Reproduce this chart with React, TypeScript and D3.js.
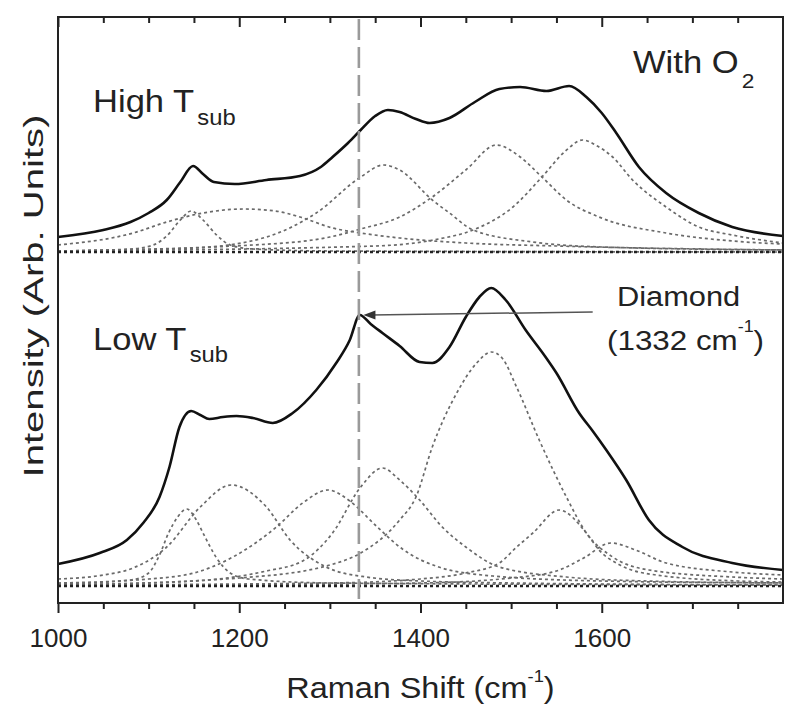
import React, { useEffect, useRef } from "react";
import * as d3 from "d3";

type Pt = [number, number]; // [Raman shift (cm-1), intensity (arb. units)]

// measured spectra
const highTsubSpectrum: Pt[] = [
  [1000, 366], [1050, 373], [1080, 381], [1100, 390], [1120, 403], [1135, 421], [1149, 437],
  [1160, 429], [1172, 421], [1195, 419], [1230, 423], [1267, 427], [1290, 436], [1303, 446],
  [1320, 460], [1334, 473], [1350, 487], [1364, 493], [1377, 491], [1395, 484], [1410, 480],
  [1432, 485], [1460, 501], [1487, 514], [1510, 516], [1539, 512], [1564, 517], [1583, 506],
  [1600, 490], [1616, 470], [1641, 436], [1671, 410], [1707, 390], [1744, 376], [1800, 367]
];

const lowTsubSpectrum: Pt[] = [
  [1000, 39], [1046, 50], [1076, 63], [1094, 80], [1112, 106], [1123, 136], [1134, 176],
  [1147, 192], [1157, 188], [1167, 184], [1182, 186], [1197, 187], [1215, 185], [1237, 180],
  [1259, 190], [1285, 213], [1307, 240], [1322, 263], [1333, 288], [1345, 279], [1358, 270],
  [1377, 257], [1399, 241], [1413, 240], [1432, 256], [1450, 286], [1465, 306], [1478, 315],
  [1494, 303], [1516, 273], [1538, 246], [1550, 230], [1575, 190], [1590, 172], [1605, 153],
  [1627, 123], [1652, 83], [1689, 56], [1744, 40], [1800, 33]
];

// fitted bands, high T_sub
const highBand1147: Pt[] = [
  [1000, 352], [1080, 354], [1105, 358], [1120, 367], [1135, 383], [1147, 392], [1160, 383],
  [1175, 368], [1190, 358], [1215, 354], [1300, 352], [1800, 351]
];
const highBand1205: Pt[] = [
  [1000, 358], [1083, 370], [1120, 381], [1160, 390], [1205, 394], [1240, 392], [1267, 386],
  [1303, 375], [1334, 370], [1377, 365], [1450, 360], [1550, 357], [1800, 353]
];
const highBand1359: Pt[] = [
  [1000, 352], [1150, 355], [1230, 366], [1285, 390], [1334, 426], [1359, 438], [1377, 433],
  [1413, 403], [1432, 390], [1458, 373], [1524, 361], [1600, 356], [1800, 353]
];
const highBand1484: Pt[] = [
  [1000, 352], [1250, 360], [1300, 366], [1334, 374], [1377, 386], [1413, 406], [1450, 433],
  [1484, 458], [1510, 446], [1534, 426], [1561, 403], [1597, 386], [1671, 370], [1744, 362],
  [1800, 359]
];
const highBand1579: Pt[] = [
  [1000, 352], [1350, 357], [1420, 364], [1458, 373], [1502, 396], [1534, 426], [1560, 452],
  [1579, 463], [1595, 457], [1612, 446], [1634, 423], [1671, 396], [1707, 376], [1744, 368],
  [1800, 360]
];
const highBaseline: Pt[] = [[1000, 351], [1800, 351]];

// fitted bands, low T_sub
const lowBand1142: Pt[] = [
  [1000, 19], [1080, 23], [1100, 30], [1112, 48], [1122, 70], [1132, 86], [1142, 94],
  [1152, 84], [1160, 70], [1175, 45], [1190, 30], [1210, 24], [1300, 20], [1800, 18]
];
const lowBand1191: Pt[] = [
  [1000, 24], [1050, 28], [1083, 35], [1120, 56], [1157, 96], [1191, 118], [1230, 96],
  [1256, 63], [1296, 36], [1340, 26], [1400, 22], [1500, 20], [1800, 18]
];
const lowBand1298: Pt[] = [
  [1000, 20], [1100, 24], [1150, 30], [1193, 46], [1241, 76], [1270, 100], [1298, 113],
  [1322, 102], [1350, 78], [1380, 54], [1420, 36], [1480, 27], [1600, 22], [1800, 20]
];
const lowBand1358: Pt[] = [
  [1000, 18], [1150, 22], [1230, 32], [1270, 42], [1303, 70], [1334, 116], [1358, 135],
  [1377, 123], [1399, 103], [1424, 76], [1450, 56], [1487, 36], [1561, 26], [1650, 22],
  [1800, 20]
];
const lowBand1478: Pt[] = [
  [1000, 18], [1200, 25], [1300, 38], [1334, 50], [1377, 83], [1395, 106], [1413, 156],
  [1440, 210], [1462, 240], [1478, 251], [1490, 245], [1506, 216], [1531, 163], [1561, 106],
  [1583, 70], [1612, 46], [1652, 33], [1744, 26], [1800, 24]
];
const lowBand1553: Pt[] = [
  [1000, 18], [1300, 20], [1400, 24], [1450, 30], [1487, 40], [1505, 55], [1524, 70],
  [1553, 93], [1583, 70], [1597, 53], [1620, 38], [1660, 28], [1750, 22], [1800, 21]
];
const lowBand1610: Pt[] = [
  [1000, 17], [1400, 20], [1500, 25], [1550, 32], [1580, 45], [1610, 60], [1640, 52],
  [1671, 40], [1744, 31], [1800, 28]
];
const lowBaseline: Pt[] = [[1000, 17], [1800, 17]];

const xTickValues = [1000, 1050, 1100, 1150, 1200, 1250, 1300, 1350, 1400, 1450, 1500, 1550, 1600, 1650, 1700, 1750];
const xTickLabels = [1000, 1200, 1400, 1600];
const diamondShift = 1332;
const arrowFrom: Pt = [1590, 291];
const arrowTo: Pt = [1337, 288];

const FONT = "'Liberation Sans', Arial, Helvetica, sans-serif";

const App: React.FC = () => {
  const svgRef = useRef<SVGSVGElement | null>(null);

  useEffect(() => {
    if (!svgRef.current) return;
    const svg = d3.select(svgRef.current);
    svg.selectAll("*").remove();

    const width = 800;
    const height = 723;
    const margin = { top: 17, right: 17, bottom: 120, left: 58 };

    const x = d3.scaleLinear().domain([1000, 1800]).range([margin.left, width - margin.right]);
    const y = d3.scaleLinear().domain([0, 586]).range([height - margin.bottom, margin.top]);

    const line = d3.line<Pt>()
      .x(d => x(d[0]))
      .y(d => y(d[1]))
      .curve(d3.curveMonotoneX);

    const bands = [
      highBand1147, highBand1205, highBand1359, highBand1484, highBand1579,
      lowBand1142, lowBand1191, lowBand1298, lowBand1358, lowBand1478, lowBand1553, lowBand1610
    ];

    svg.append("g")
      .selectAll("path")
      .data(bands)
      .enter()
      .append("path")
      .attr("d", d => line(d))
      .attr("fill", "none")
      .attr("stroke", "#6a6a6a")
      .attr("stroke-width", 1.7)
      .attr("stroke-dasharray", "3,3");

    svg.append("g")
      .selectAll("path")
      .data([highBaseline, lowBaseline])
      .enter()
      .append("path")
      .attr("d", d => line(d))
      .attr("fill", "none")
      .attr("stroke", "#222")
      .attr("stroke-width", 2.4)
      .attr("stroke-dasharray", "3,3");

    svg.append("g")
      .selectAll("path")
      .data([highTsubSpectrum, lowTsubSpectrum])
      .enter()
      .append("path")
      .attr("d", d => line(d))
      .attr("fill", "none")
      .attr("stroke", "#111")
      .attr("stroke-width", 2.6)
      .attr("stroke-linejoin", "round");

    // diamond position
    svg.append("line")
      .attr("x1", x(diamondShift))
      .attr("x2", x(diamondShift))
      .attr("y1", margin.top + 2)
      .attr("y2", height - margin.bottom - 4)
      .attr("stroke", "#9a9a9a")
      .attr("stroke-width", 2.6)
      .attr("stroke-dasharray", "21,7");

    // arrow to the diamond peak
    const ax0 = x(arrowFrom[0]), ay0 = y(arrowFrom[1]);
    const ax1 = x(arrowTo[0]), ay1 = y(arrowTo[1]);
    svg.append("line")
      .attr("x1", ax0).attr("y1", ay0)
      .attr("x2", ax1 + 8).attr("y2", ay1)
      .attr("stroke", "#555")
      .attr("stroke-width", 1.5);
    svg.append("path")
      .attr("d", `M${ax1},${ay1} L${ax1 + 12},${ay1 - 4.5} L${ax1 + 12},${ay1 + 4.5} Z`)
      .attr("fill", "#333");

    // frame
    svg.append("rect")
      .attr("x", margin.left)
      .attr("y", margin.top)
      .attr("width", width - margin.left - margin.right)
      .attr("height", height - margin.top - margin.bottom)
      .attr("fill", "none")
      .attr("stroke", "#222")
      .attr("stroke-width", 2);

    const minorTicks = xTickValues.filter(v => !xTickLabels.includes(v));

    const bottom = svg.append("g").attr("transform", `translate(0,${height - margin.bottom})`);
    bottom.append("g").call(d3.axisBottom(x).tickValues(minorTicks).tickSize(6).tickFormat(() => ""));
    bottom.append("g").call(d3.axisBottom(x).tickValues(xTickLabels).tickSize(10).tickFormat(d3.format("d")));

    const top = svg.append("g").attr("transform", `translate(0,${margin.top})`);
    top.append("g").call(d3.axisTop(x).tickValues(minorTicks).tickSize(-6).tickFormat(() => ""));
    top.append("g").call(d3.axisTop(x).tickValues(xTickLabels).tickSize(-10).tickFormat(() => ""));

    svg.selectAll(".domain").remove();
    svg.selectAll(".tick line").attr("stroke", "#222").attr("stroke-width", 2);
    bottom.selectAll(".tick text")
      .attr("y", 44)
      .attr("dy", 0)
      .attr("transform", "scale(1.04,1)")
      .attr("font-family", FONT)
      .attr("font-size", 25)
      .attr("fill", "#222");

    const label = (tx: number, ty: number, size: number, sx: number, anchor = "start") =>
      svg.append("text")
        .attr("transform", `translate(${tx},${ty}) scale(${sx},1)`)
        .attr("font-family", FONT)
        .attr("font-size", size)
        .attr("fill", "#222")
        .attr("text-anchor", anchor);

    const high = label(93, 112, 32, 1.08);
    high.append("tspan").text("High T");
    high.append("tspan").attr("dx", 3).attr("dy", 13).attr("font-size", 22).text("sub");

    const low = label(93, 350, 32, 1.08);
    low.append("tspan").text("Low T");
    low.append("tspan").attr("dx", 3).attr("dy", 12).attr("font-size", 22).text("sub");

    const o2 = label(633, 73, 32, 1.08);
    o2.append("tspan").text("With O");
    o2.append("tspan").attr("dx", 3).attr("dy", 15).attr("font-size", 21).text("2");

    label(617, 306, 28, 1.1).text("Diamond");
    const dia = label(607, 350, 28, 1.12);
    dia.append("tspan").text("(1332 cm");
    dia.append("tspan").attr("dy", -18).attr("font-size", 16).text("-1");
    dia.append("tspan").attr("dy", 18).text(")");

    const xt = label((margin.left + width - margin.right) / 2, 698, 30, 1.08, "middle");
    xt.append("tspan").text("Raman Shift (cm");
    xt.append("tspan").attr("dy", -16).attr("font-size", 17).text("-1");
    xt.append("tspan").attr("dy", 16).text(")");

    svg.append("text")
      .attr("transform", `translate(43,296) rotate(-90)`)
      .attr("font-family", FONT)
      .attr("font-size", 27)
      .attr("fill", "#222")
      .attr("text-anchor", "middle")
      .attr("textLength", 363)
      .attr("lengthAdjust", "spacingAndGlyphs")
      .text("Intensity (Arb. Units)");
  }, []);

  return (
    <svg
      ref={svgRef}
      width={800}
      height={723}
      style={{ position: "absolute", left: 0, top: 0, background: "#fff" }}
    />
  );
};

export default App;
